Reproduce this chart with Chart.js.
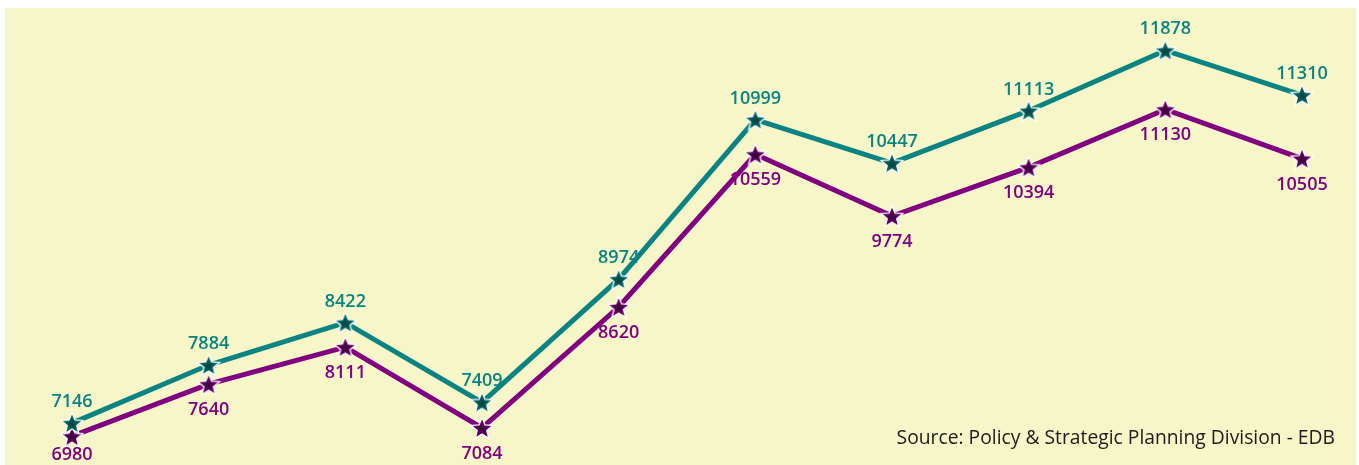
<!DOCTYPE html>
<html><head><meta charset="utf-8">
<script src="https://cdn.jsdelivr.net/npm/chart.js@4/dist/chart.umd.min.js"></script>
<style>
html,body{margin:0;padding:0;background:#fff;overflow:hidden}
#wrap{position:relative;width:1359px;height:465px}
</style></head><body>
<div id="wrap"><canvas id="c" width="1359" height="465"></canvas></div>
<script>
const categories = ['1','2','3','4','5','6','7','8','9','10'];
const seriesA = [7146, 7884, 8422, 7409, 8974, 10999, 10447, 11113, 11878, 11310];
const seriesB = [6980, 7640, 8111, 7084, 8620, 10559, 9774, 10394, 11130, 10505];
const sourceText = 'Source: Policy & Strategic Planning Division - EDB';

const TEAL = '#0a8482', PURPLE = '#800080';

function makeStar(color, dark) {
  const s = 26, c = document.createElement('canvas');
  c.width = s; c.height = s;
  const g = c.getContext('2d');
  const cx = s/2, cy = s/2 + 1, R = 11.5, r = 5;
  g.beginPath();
  for (let i = 0; i < 10; i++) {
    const rad = i % 2 ? r : R;
    const a = -Math.PI/2 + i * Math.PI/5;
    const x = cx + rad*Math.cos(a), y = cy + rad*Math.sin(a);
    i ? g.lineTo(x,y) : g.moveTo(x,y);
  }
  g.closePath();
  const grad = g.createRadialGradient(cx, cy, 0, cx, cy, R);
  grad.addColorStop(0, dark);
  grad.addColorStop(1, color);
  g.fillStyle = grad; g.fill();
  g.lineWidth = 1.3; g.strokeStyle = '#ffffff'; g.stroke();
  return c;
}
const starA = makeStar(TEAL, '#03403f');
const starB = makeStar(PURPLE, '#3a0038');

const bgPlugin = {
  id: 'bg',
  beforeDraw(chart) {
    const ctx = chart.ctx;
    ctx.save();
    ctx.fillStyle = '#f7f6c9';
    ctx.fillRect(5, 8, 1351, 457);
    ctx.restore();
  }
};
const labelPlugin = {
  id: 'labels',
  afterDatasetsDraw(chart) {
    const ctx = chart.ctx;
    ctx.save();
    ctx.font = '600 18px "Open Sans"';
    ctx.textAlign = 'center';
    chart.data.datasets.forEach((ds, di) => {
      const meta = chart.getDatasetMeta(di);
      meta.data.forEach((pt, i) => {
        ctx.fillStyle = ds.borderColor;
        if (di === 0) {
          ctx.textBaseline = 'alphabetic';
          ctx.fillText(String(ds.data[i]), pt.x, pt.y - 16);
        } else {
          ctx.textBaseline = 'top';
          ctx.fillText(String(ds.data[i]), pt.x, Math.min(pt.y + 17, 446));
        }
      });
    });
    ctx.font = '19.3px "Open Sans"';
    ctx.fillStyle = '#1c1c1c';
    ctx.textAlign = 'right';
    ctx.textBaseline = 'alphabetic';
    ctx.fillText(sourceText, 1335, 444);
    ctx.restore();
  }
};

new Chart(document.getElementById('c'), {
  type: 'line',
  data: {
    labels: categories,
    datasets: [
      { label: 'A', data: seriesA, borderColor: TEAL, backgroundColor: TEAL, borderWidth: 5,
        pointStyle: starA, pointRadius: 12, tension: 0, order: 1 },
      { label: 'B', data: seriesB, borderColor: PURPLE, backgroundColor: PURPLE, borderWidth: 5,
        pointStyle: starB, pointRadius: 12, tension: 0, order: 2 }
    ]
  },
  options: {
    responsive: false,
    animation: false,
    layout: { padding: { left: 72, right: 57, top: 18, bottom: 7 } },
    plugins: { legend: { display: false }, tooltip: { enabled: false }, title: { display: false } },
    scales: {
      x: { display: false, offset: false },
      y: { display: false, min: 6830, max: 12290 }
    }
  },
  plugins: [bgPlugin, labelPlugin]
});
</script>
</body></html>
